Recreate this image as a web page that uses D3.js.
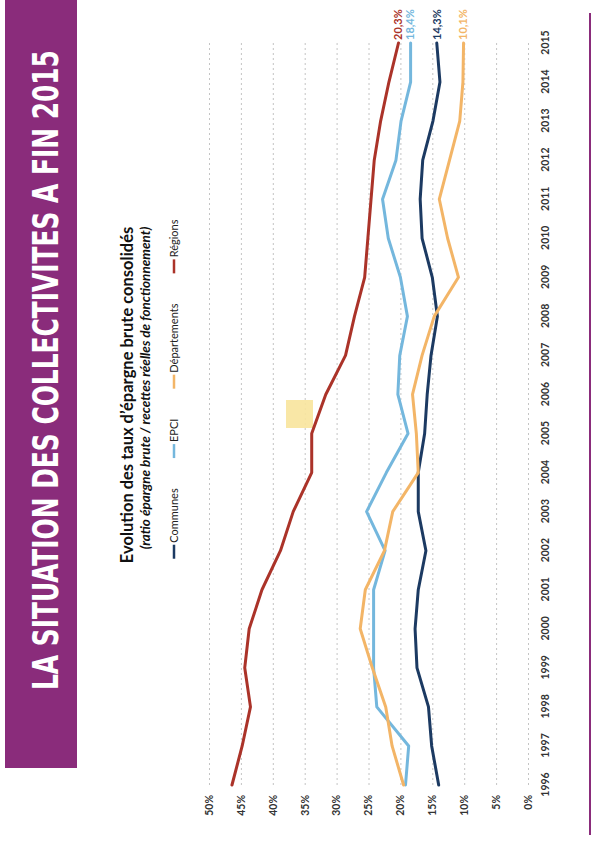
<!DOCTYPE html>
<html>
<head>
<meta charset="utf-8">
<script src="https://cdn.jsdelivr.net/npm/d3@7"></script>
<style>
  html, body { margin: 0; padding: 0; background: #ffffff; }
  svg { display: block; }
</style>
</head>
<body>
<svg id="chart" width="605" height="845"></svg>
<script>
// Gross savings rate of French local authorities, 1996-2015 (% of operating revenue)
const years = ["1996","1997","1998","1999","2000","2001","2002","2003","2004","2005",
               "2006","2007","2008","2009","2010","2011","2012","2013","2014","2015"];
const communes     = [14.0, 15.1, 15.6, 17.4, 17.7, 17.2, 16.0, 17.2, 17.2, 16.2, 15.8, 15.2, 14.2, 15.0, 16.6, 16.9, 16.5, 14.9, 13.8, 14.3];
const epci         = [19.2, 18.7, 23.7, 24.2, 24.2, 24.2, 22.4, 25.3, 22.2, 18.8, 20.4, 20.1, 18.9, 20.0, 21.9, 22.8, 20.7, 19.9, 18.4, 18.4];
const departements = [19.5, 21.3, 22.3, 24.4, 26.3, 25.5, 22.5, 21.2, 17.2, 17.5, 18.1, 16.6, 14.7, 10.9, 12.6, 13.9, 12.3, 10.7, 10.2, 10.1];
const regions      = [46.4, 44.8, 43.5, 44.4, 43.7, 41.7, 38.8, 36.8, 33.9, 33.9, 31.7, 28.6, 27.2, 25.6, 25.1, 24.6, 24.1, 23.1, 21.8, 20.3];

const seriesNames  = ["Communes", "EPCI", "Départements", "Régions"];
const seriesColors = ["#1c3a62", "#74b7dd", "#f3b567", "#ab3329"];
const endLabels    = ["14,3%", "18,4%", "10,1%", "20,3%"];
const valueTicks   = [0, 5, 10, 15, 20, 25, 30, 35, 40, 45, 50];

const bannerTitle   = "LA SITUATION DES COLLECTIVITES A FIN 2015";
const chartTitle    = "Evolution des taux d’épargne brute consolidés";
const chartSubtitle = "(ratio épargne brute / recettes réelles de fonctionnement)";

const seriesValues = [communes, epci, departements, regions];
const purple = "#8a2c7b";
const textFont = "Lato, 'Open Sans', 'Liberation Sans', sans-serif";

const svg = d3.select("#chart");
svg.append("rect").attr("width", 605).attr("height", 845).attr("fill", "#ffffff");

// The slide is laid out sideways: draw in a landscape frame turned a quarter turn.
const g = svg.append("g").attr("transform", "translate(0,845) rotate(-90)");

// Purple banner with the section title
g.append("rect")
  .attr("x", 77).attr("y", 5).attr("width", 768).attr("height", 72)
  .attr("fill", purple);
const banner = g.append("text")
  .attr("x", 0).attr("y", 0)
  .attr("font-family", "'Liberation Sans Narrow', 'DejaVu Sans Condensed', 'Liberation Sans', sans-serif")
  .attr("font-weight", "bold").attr("font-size", 36)
  .attr("fill", "#ffffff")
  .text(bannerTitle);
// squeeze the title horizontally into a condensed look that spans the banner
const naturalWidth = banner.node().getComputedTextLength();
banner.attr("transform", `translate(155,58) scale(${640 / naturalWidth},1)`);

// Thin purple rule along the page edge
g.append("line")
  .attr("x1", 10).attr("x2", 832).attr("y1", 590).attr("y2", 590)
  .attr("stroke", purple).attr("stroke-width", 2);

// Scales
const x = d3.scalePoint().domain(years).range([60, 802]);
const y = d3.scaleLinear().domain([0, 50]).range([528, 209]);

// Chart title and subtitle
g.append("text")
  .attr("x", 450).attr("y", 133)
  .attr("text-anchor", "middle")
  .attr("font-family", textFont).attr("font-weight", "bold").attr("font-size", 16.5)
  .attr("fill", "#111")
  .text(chartTitle);
g.append("text")
  .attr("x", 457).attr("y", 150)
  .attr("text-anchor", "middle")
  .attr("font-family", textFont).attr("font-weight", "bold").attr("font-style", "italic")
  .attr("font-size", 13.5)
  .attr("fill", "#111")
  .text(chartSubtitle);

// Gridlines
const grid = g.append("g")
  .attr("transform", "translate(60,0)")
  .call(d3.axisLeft(y).tickValues(valueTicks).tickSize(-(802 - 60)).tickFormat(""));
grid.select(".domain").remove();
grid.selectAll(".tick line")
  .attr("stroke", "#c4c4c4").attr("stroke-width", 1).attr("stroke-dasharray", "2,3");

// Value axis labels
const yAxis = g.append("g")
  .attr("transform", "translate(60,0)")
  .call(d3.axisLeft(y).tickValues(valueTicks).tickSize(0).tickPadding(10)
        .tickFormat(d => d + "%"));
yAxis.select(".domain").remove();
yAxis.selectAll("text")
  .attr("font-family", textFont).attr("font-weight", "bold").attr("font-size", 10.5)
  .attr("fill", "#333");

// Year axis labels
const xAxis = g.append("g")
  .attr("transform", "translate(0,528)")
  .call(d3.axisBottom(x).tickSize(0).tickPadding(14));
xAxis.select(".domain").remove();
xAxis.selectAll("text")
  .attr("font-family", textFont).attr("font-weight", "bold").attr("font-size", 10.5)
  .attr("fill", "#333");

// Small pale-yellow sticker on the slide
g.append("rect")
  .attr("x", 417).attr("y", 286).attr("width", 28).attr("height", 27)
  .attr("fill", "#f8e49c").attr("opacity", 0.9);

// Series lines
const line = d3.line()
  .x((d, i) => x(years[i]))
  .y(d => y(d));

g.selectAll("path.series")
  .data(seriesValues)
  .join("path")
  .attr("class", "series")
  .attr("d", d => line(d))
  .attr("fill", "none")
  .attr("stroke", (d, i) => seriesColors[i])
  .attr("stroke-width", 3)
  .attr("stroke-linejoin", "round")
  .attr("stroke-linecap", "round");

// Final-year value labels
g.selectAll("text.endlabel")
  .data(seriesValues)
  .join("text")
  .attr("class", "endlabel")
  .attr("x", x(years[years.length - 1]) + 3)
  .attr("y", d => y(d[d.length - 1]))
  .attr("dy", "0.35em")
  .attr("font-family", textFont).attr("font-weight", "bold").attr("font-size", 11)
  .attr("fill", (d, i) => seriesColors[i])
  .text((d, i) => endLabels[i]);

// Legend, centred under the subtitle
const legend = g.append("g");
const items = legend.selectAll("g.item")
  .data(seriesNames)
  .join("g").attr("class", "item");
items.append("line")
  .attr("x1", 0).attr("x2", 14).attr("y1", 174).attr("y2", 174)
  .attr("stroke", (d, i) => seriesColors[i]).attr("stroke-width", 2.5);
items.append("text")
  .attr("x", 16).attr("y", 178)
  .attr("font-family", textFont).attr("font-size", 11)
  .attr("fill", "#222")
  .text(d => d);
const widths = [];
items.each(function () { widths.push(this.getBBox().width); });
const gap = 30;
const total = d3.sum(widths) + gap * (widths.length - 1);
let pos = 456 - total / 2;
items.attr("transform", (d, i) => {
  const t = `translate(${pos},0)`;
  pos += widths[i] + gap;
  return t;
});
</script>
</body>
</html>
